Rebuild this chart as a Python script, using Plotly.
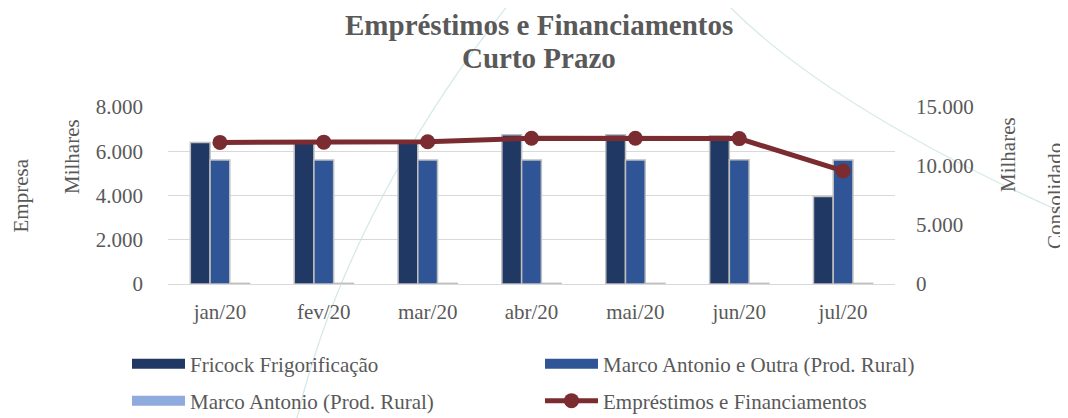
import plotly.graph_objects as go

categories = ["jan/20", "fev/20", "mar/20", "abr/20", "mai/20", "jun/20", "jul/20"]
fricock = [6400, 6420, 6450, 6750, 6750, 6700, 3950]
marco_outra = [5600, 5600, 5600, 5600, 5600, 5620, 5600]
marco_rural = [30, 30, 30, 30, 30, 30, 30]
emprestimos = [12000, 12020, 12050, 12350, 12350, 12320, 9580]

left_ticks = [0, 2000, 4000, 6000, 8000]
right_ticks = [0, 5000, 10000, 15000]

series_names = ["Fricock Frigorificação", "Marco Antonio e Outra (Prod. Rural)",
                "Marco Antonio (Prod. Rural)", "Empréstimos e Financiamentos"]
series_colors = ["#203864", "#2f5597", "#8faadc", "#7b2c30"]

FONT = "Liberation Serif"
GREY = "#595959"
OUTLINE = "#bfbfbf"

# the page body adds an 8px offset; size the figure to compensate
OFF = 8
W, H = 1068 - OFF, 418 - OFF
# plot-area geometry in screenshot pixels
L, R, T, B = 168, 895, 107, 284


def px(x):
    return (x - L) / (R - L)


def py(y):
    return (B - y) / (B - T)


fig = go.Figure()
bar_data = [fricock, marco_outra, marco_rural]
legend_of = ["legend", "legend", "legend2"]
for name, vals, col, lg in zip(series_names[:3], bar_data, series_colors[:3], legend_of):
    fig.add_bar(x=categories, y=vals, name=name, legendgroup=name,
                marker=dict(color=col, line=dict(color=OUTLINE, width=1.5)),
                showlegend=False)
    # legend entry drawn as a wide rectangle like the reference
    fig.add_scatter(x=[None], y=[None], mode="lines", name=name, legendgroup=name,
                    line=dict(color=col, width=12), legend=lg,
                    hoverinfo="skip")

fig.add_scatter(x=categories, y=emprestimos, name=series_names[3],
                yaxis="y2", mode="lines+markers",
                line=dict(color=series_colors[3], width=5),
                marker=dict(color=series_colors[3], size=15),
                legend="legend2")

# decorative background curves (cubic bezier, screenshot pixels)
def path_c(p0, c1, c2, p1):
    pts = [p0, c1, c2, p1]
    s = [f"{px(x)},{py(y)}" for x, y in pts]
    return f"M {s[0]} C {s[1]} {s[2]} {s[3]}"

for p0, c1, c2, p1 in [((512, 0), (440, 90), (340, 240), (297, 418)),
                       ((723, 0), (790, 70), (900, 140), (1068, 215))]:
    fig.add_shape(type="path", xref="paper", yref="paper", layer="below",
                  path=path_c(p0, c1, c2, p1),
                  line=dict(color="#d6e9e9", width=1.3))

axis_title_font = dict(family=FONT, size=21, color=GREY)
annotations = [
    dict(text="Empresa", x=0, xshift=20 - L, y=0.5, textangle=-90),
    dict(text="Milhares", x=0, xshift=72 - L, y=py(157), textangle=-90),
    dict(text="Milhares", x=1, xshift=1008 - R, y=py(155), textangle=-90),
    dict(text="Consolidado", x=1, xshift=1055 - R, y=py(196), textangle=-90),
]
for a in annotations:
    a.update(xref="paper", yref="paper", xanchor="center", yanchor="middle",
             showarrow=False, font=axis_title_font)

title_font = dict(family=FONT, size=29, color=GREY)
for txt, yc in [("<b>Empréstimos e Financiamentos</b>", 25), ("<b>Curto Prazo</b>", 58)]:
    annotations.append(dict(text=txt, xref="paper", yref="paper", x=px(539),
                            y=py(yc), xanchor="center", yanchor="middle",
                            showarrow=False, font=title_font))

legend_common = dict(orientation="h", xanchor="left", yanchor="middle",
                     entrywidth=345, entrywidthmode="pixels", itemwidth=53,
                     font=dict(family=FONT, size=21, color=GREY),
                     bgcolor="rgba(0,0,0,0)")

fig.update_layout(
    width=W, height=H,
    margin=dict(l=L - OFF, r=W - (R - OFF), t=T - OFF, b=H - (B - OFF),
                autoexpand=False),
    paper_bgcolor="white", plot_bgcolor="white",
    separators=",.",
    font=dict(family=FONT, color=GREY, size=21),
    barmode="group", bargap=0.43, bargroupgap=0,
    xaxis=dict(tickfont=dict(family=FONT, size=21, color=GREY),
               showgrid=False, showline=False, ticks="",
               ticklabelstandoff=13),
    yaxis=dict(range=[0, 8000], tickvals=left_ticks, tickformat=",d",
               gridcolor="#d9d9d9", gridwidth=1, zeroline=True,
               zerolinecolor="#d9d9d9", zerolinewidth=1,
               tickfont=dict(family=FONT, size=21, color=GREY), ticks="",
               ticklabelstandoff=24),
    yaxis2=dict(range=[0, 15000], tickvals=right_ticks, tickformat=",d",
                overlaying="y", side="right", showgrid=False, zeroline=False,
                tickfont=dict(family=FONT, size=21, color=GREY), ticks="",
                ticklabelstandoff=20),
    legend=dict(x=px(127), y=py(364), **legend_common),
    legend2=dict(x=px(127), y=py(401), **legend_common),
    annotations=annotations,
    showlegend=True,
)

fig.write_html("out.html")
